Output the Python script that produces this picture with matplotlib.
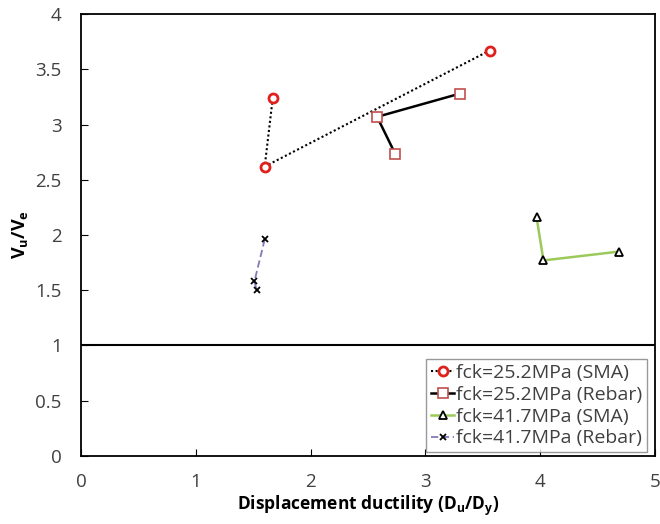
import matplotlib
matplotlib.use("Agg")
import matplotlib.pyplot as plt

plt.rcParams['font.family'] = ['Open Sans', 'DejaVu Sans']

sma252_x = [1.67, 1.60, 3.56]
sma252_y = [3.24, 2.62, 3.67]
reb252_x = [2.74, 2.58, 3.30]
reb252_y = [2.73, 3.07, 3.28]
sma417_x = [3.97, 4.03, 4.69]
sma417_y = [2.16, 1.77, 1.85]
reb417_x = [1.60, 1.51, 1.53]
reb417_y = [1.96, 1.58, 1.50]
labels = ["fck=25.2MPa (SMA)", "fck=25.2MPa (Rebar)",
          "fck=41.7MPa (SMA)", "fck=41.7MPa (Rebar)"]
ref_line_y = 1.0

fig = plt.figure(figsize=(6.6, 5.24), dpi=100)
ax = fig.add_axes([0.123, 0.13, 0.869, 0.843])

ax.axhline(ref_line_y, color='black', lw=1.5, zorder=1)

ax.plot(sma252_x, sma252_y, ls=(0, (1, 1.2)), color='black', lw=1.5,
        marker='o', ms=6.5, mfc='white', mec='#e0201b', mew=2, label=labels[0], zorder=3)
ax.plot(reb252_x, reb252_y, ls='-', color='black', lw=1.8,
        marker='s', ms=7.5, mfc='white', mec='#c0504d', mew=1.2, label=labels[1], zorder=3)
ax.plot(sma417_x, sma417_y, ls='-', color='#9bc95a', lw=1.8,
        marker='^', ms=6, mfc='white', mec='black', mew=1.3, label=labels[2], zorder=3)
ax.plot(reb417_x, reb417_y, ls=(0, (4, 2)), color='#8878b8', lw=1.3,
        marker='x', ms=5, mec='black', mew=1.3, label=labels[3], zorder=3)

ax.set_xlim(0, 5)
ax.set_ylim(0, 4)
ax.set_xticks([0, 1, 2, 3, 4, 5])
ax.set_xticklabels(['0', '1', '2', '3', '4', '5'])
ax.set_yticks([0, 0.5, 1, 1.5, 2, 2.5, 3, 3.5, 4])
ax.set_yticklabels(['0', '0.5', '1', '1.5', '2', '2.5', '3', '3.5', '4'])
ax.tick_params(direction='in', length=5, labelsize=13.5, colors='black')
ax.tick_params(axis='x', pad=12)
ax.tick_params(axis='y', pad=14)
for tl in ax.get_xticklabels() + ax.get_yticklabels():
    tl.set_color('#404040')
for s in ax.spines.values():
    s.set_linewidth(1.3)
    s.set_color('black')

ax.set_xlabel('Displacement ductility (D$_\\mathregular{u}$/D$_\\mathregular{y}$)',
              fontsize=12.5, fontweight='bold', labelpad=2)
ax.set_ylabel('V$_\\mathregular{u}$/V$_\\mathregular{e}$', fontsize=13,
              fontweight='bold', labelpad=4)

leg = ax.legend(loc='lower right', bbox_to_anchor=(0.987, 0.008), fontsize=14,
                frameon=True, fancybox=False, shadow=False, handlelength=1.2,
                handletextpad=0.1, borderpad=0.25, labelspacing=0.2,
                borderaxespad=0)
leg.get_frame().set_edgecolor('#808080')
leg.get_frame().set_linewidth(1.0)
for t in leg.get_texts():
    t.set_color('#404040')

fig.savefig('out.png', dpi=100)
